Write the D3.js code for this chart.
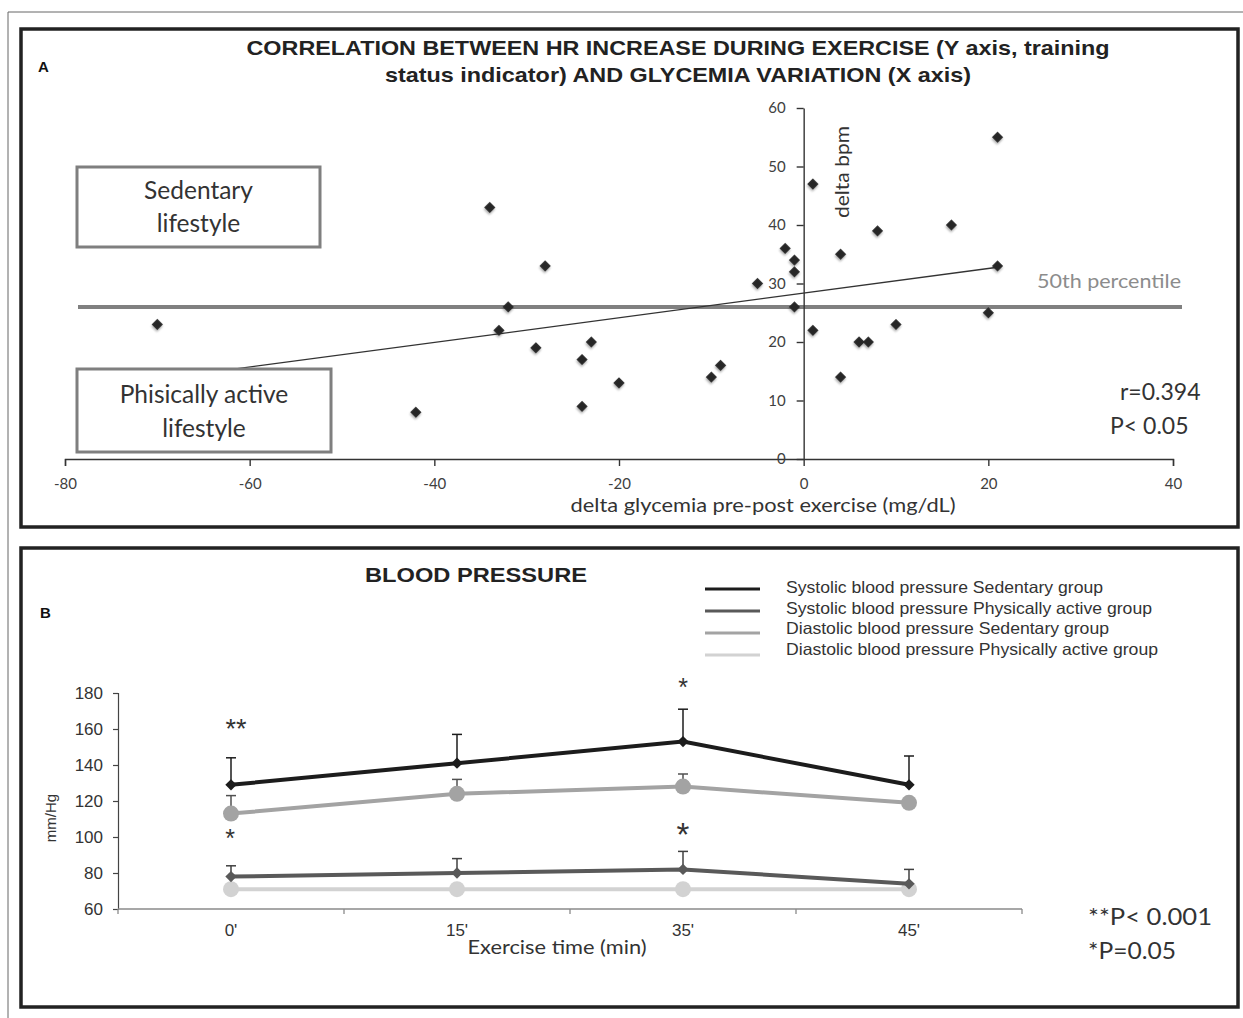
<!DOCTYPE html>
<html><head><meta charset="utf-8">
<script src="https://cdn.jsdelivr.net/npm/d3@7"></script>
<style>body{margin:0;background:#fff}</style>
</head><body>
<svg id="c" width="1243" height="1018"></svg>
<script>
// ---------- Panel A data ----------
const glycemiaDelta = [-70,-42,-34,-33,-32,-29,-28,-24,-24,-23,-20,-10,-9,-5,-2,-1,-1,-1,1,1,4,4,6,7,8,10,16,20,21,21];
const bpmDelta      = [ 23,  8, 43, 22, 26, 19, 33, 17,  9, 20, 13, 14,16,30,36,34,32,26,47,22,35,14,20,20,39,23,40,25,55,33];
const percentile50 = 26;
const xTicksA = [-80,-60,-40,-20,0,20,40];
const yTicksA = [0,10,20,30,40,50,60];

// ---------- Panel B data ----------
const timePoints = ["0'", "15'", "35'", "45'"];
const seriesNames = [
  "Systolic blood pressure Sedentary group",
  "Systolic blood pressure Physically active group",
  "Diastolic blood pressure Sedentary group",
  "Diastolic blood pressure Physically active group"
];
const sysSedentary    = [129, 141, 153, 129];
const sysSedentaryErr = [15, 16, 18, 16];
const sysActive       = [78, 80, 82, 74];
const sysActiveErr    = [6, 8, 10, 8];
const diaSedentary    = [113, 124, 128, 119];
const diaSedentaryErr = [10, 8, 7, 0];
const diaActive       = [71, 71, 71, 71];
const diaActiveErr    = [0, 0, 0, 0];
const yTicksB = [60,80,100,120,140,160,180];

const svg = d3.select("#c");
const CAL = "Lato, 'Open Sans', sans-serif";
const ARI = "'Liberation Sans', Arial, sans-serif";

// drop shadow filter
const defs = svg.append("defs");
const f = defs.append("filter").attr("id","sh").attr("x","-50%").attr("y","-50%").attr("width","200%").attr("height","200%");
f.append("feDropShadow").attr("dx",1).attr("dy",1.5).attr("stdDeviation",1).attr("flood-color","#000").attr("flood-opacity",0.35);

// outer thin borders
svg.append("line").attr("x1",8).attr("x2",1243).attr("y1",12).attr("y2",12).attr("stroke","#666").attr("stroke-width",1);
svg.append("line").attr("x1",8).attr("x2",8).attr("y1",12).attr("y2",1018).attr("stroke","#666").attr("stroke-width",1);

// panel frames
svg.append("rect").attr("x",21).attr("y",29).attr("width",1217).attr("height",498)
  .attr("fill","none").attr("stroke","#222").attr("stroke-width",3.5);
svg.append("rect").attr("x",21).attr("y",548).attr("width",1217).attr("height",459)
  .attr("fill","none").attr("stroke","#222").attr("stroke-width",3.5);

// ================= Panel A =================
const xA = d3.scaleLinear().domain([-80,40]).range([65,1173]);
const yA = d3.scaleLinear().domain([0,60]).range([459,108]);

svg.append("text").attr("x",38).attr("y",72).text("A")
  .attr("font-family",ARI).attr("font-weight","bold").attr("font-size",15).attr("fill","#111");
svg.append("text").attr("x",678).attr("y",55).attr("text-anchor","middle")
  .attr("font-family",ARI).attr("font-weight","bold").attr("font-size",20.5).attr("fill","#222")
  .attr("textLength",863).attr("lengthAdjust","spacingAndGlyphs")
  .text("CORRELATION BETWEEN HR INCREASE DURING EXERCISE (Y axis, training");
svg.append("text").attr("x",678).attr("y",82).attr("text-anchor","middle")
  .attr("font-family",ARI).attr("font-weight","bold").attr("font-size",20.5).attr("fill","#222")
  .attr("textLength",586).attr("lengthAdjust","spacingAndGlyphs")
  .text("status indicator) AND GLYCEMIA VARIATION (X axis)");

// 50th percentile line
svg.append("line").attr("x1",78).attr("x2",1182)
  .attr("y1",yA(percentile50)).attr("y2",yA(percentile50))
  .attr("stroke","#808080").attr("stroke-width",4);
svg.append("text").attr("x",1037).attr("y",288).text("50th percentile")
  .attr("font-family",CAL).attr("font-size",19).attr("fill","#8c8c8c")
  .attr("textLength",144).attr("lengthAdjust","spacingAndGlyphs");

// regression trendline
const n = glycemiaDelta.length;
const mx = d3.mean(glycemiaDelta), my = d3.mean(bpmDelta);
let sxy = 0, sxx = 0;
for (let i=0;i<n;i++){ sxy += (glycemiaDelta[i]-mx)*(bpmDelta[i]-my); sxx += (glycemiaDelta[i]-mx)**2; }
const slope = sxy/sxx, icpt = my - slope*mx;
const x0 = d3.min(glycemiaDelta), x1 = d3.max(glycemiaDelta);
svg.append("line").attr("x1",xA(x0)).attr("y1",yA(icpt+slope*x0))
  .attr("x2",xA(x1)).attr("y2",yA(icpt+slope*x1))
  .attr("stroke","#333").attr("stroke-width",1.3);

// axes A
const gxA = svg.append("g").attr("transform",`translate(0,${yA(0)})`)
  .call(d3.axisBottom(xA).tickValues(xTicksA).tickSize(7).tickSizeOuter(7).tickPadding(12).tickFormat(d3.format("d")));
const gyA = svg.append("g").attr("transform",`translate(${xA(0)},0)`)
  .call(d3.axisLeft(yA).tickValues(yTicksA).tickSize(7).tickSizeOuter(0).tickPadding(11).tickFormat(d3.format("d")));
[gxA,gyA].forEach(g=>{
  g.selectAll("path,line").attr("stroke","#333").attr("stroke-width",1.4);
  g.selectAll("text").attr("font-family",CAL).attr("font-size",15).attr("fill","#404040");
});
gxA.selectAll("text").text(d => d < 0 ? "-" + Math.abs(d) : d);

svg.append("text").attr("x",763).attr("y",512).attr("text-anchor","middle")
  .attr("font-family",CAL).attr("font-size",19).attr("fill","#333")
  .attr("textLength",385).attr("lengthAdjust","spacingAndGlyphs")
  .text("delta glycemia pre-post exercise (mg/dL)");
svg.append("text").attr("transform","translate(841,172) rotate(-90)").attr("text-anchor","middle")
  .attr("dominant-baseline","central")
  .attr("font-family",CAL).attr("font-size",19).attr("fill","#333")
  .attr("textLength",92).attr("lengthAdjust","spacingAndGlyphs").text("delta bpm");

// scatter points
svg.append("g").selectAll("path").data(glycemiaDelta.map((x,i)=>[x,bpmDelta[i]])).join("path")
  .attr("d", d3.symbol(d3.symbolSquare, 62)())
  .attr("transform", d => `translate(${xA(d[0])},${yA(d[1])}) rotate(45)`)
  .attr("fill","#262626").attr("filter","url(#sh)");

// lifestyle boxes
function box(x,y,w,h,lines,ys){
  svg.append("rect").attr("x",x).attr("y",y).attr("width",w).attr("height",h)
    .attr("fill","#fff").attr("stroke","#7f7f7f").attr("stroke-width",3);
  lines.forEach((t,i)=>svg.append("text").attr("x",x+w/2).attr("y",ys[i]).attr("text-anchor","middle")
    .attr("font-family",CAL).attr("font-size",24.5).attr("fill","#333").text(t));
}
box(77,167,243,80,["Sedentary","lifestyle"],[199,232]);
box(77,369,254,83,["Phisically active","lifestyle"],[403,437]);

svg.append("text").attr("x",1120).attr("y",400).text("r=0.394")
  .attr("font-family",CAL).attr("font-size",23).attr("fill","#333");
svg.append("text").attr("x",1110).attr("y",434).text("P< 0.05")
  .attr("font-family",CAL).attr("font-size",23).attr("fill","#333");

// ================= Panel B =================
svg.append("text").attr("x",40).attr("y",618).text("B")
  .attr("font-family",ARI).attr("font-weight","bold").attr("font-size",15).attr("fill","#111");
svg.append("text").attr("x",476).attr("y",582).attr("text-anchor","middle")
  .attr("font-family",ARI).attr("font-weight","bold").attr("font-size",20.5).attr("fill","#222")
  .attr("textLength",222).attr("lengthAdjust","spacingAndGlyphs").text("BLOOD PRESSURE");

const colors = ["#1c1c1c","#595959","#a3a3a3","#d2d2d2"];
const errColors = ["#1c1c1c","#404040","#505050","#999"];
const legendW = [317,366,323,372];
seriesNames.forEach((name,i)=>{
  const ly = 589 + i*22;
  svg.append("line").attr("x1",705).attr("x2",760).attr("y1",ly).attr("y2",ly)
    .attr("stroke",colors[i]).attr("stroke-width",3);
  svg.append("text").attr("x",786).attr("y",593 + i*20.5)
    .attr("font-family",ARI).attr("font-size",16.5).attr("fill","#333")
    .attr("textLength",legendW[i]).attr("lengthAdjust","spacingAndGlyphs").text(name);
});

const xB = d3.scaleBand().domain(timePoints).range([118,1022]);
const yB = d3.scaleLinear().domain([60,180]).range([909,693]);
const cx = t => xB(t) + xB.bandwidth()/2;

const gyB = svg.append("g").attr("transform","translate(118,0)")
  .call(d3.axisLeft(yB).tickValues(yTicksB).tickSize(5).tickSizeOuter(5).tickPadding(10));
gyB.selectAll("path,line").attr("stroke","#444").attr("stroke-width",1.2);
gyB.selectAll("text").attr("font-family",ARI).attr("font-size",17).attr("fill","#333");

// x axis line + boundary ticks
svg.append("line").attr("x1",118).attr("x2",1022).attr("y1",yB(60)).attr("y2",yB(60))
  .attr("stroke","#8a8a8a").attr("stroke-width",1.5);
const bounds = timePoints.map(t=>xB(t)).concat([xB.range()[1]]);
svg.append("g").selectAll("line").data(bounds).join("line")
  .attr("x1",d=>d).attr("x2",d=>d).attr("y1",yB(60)).attr("y2",yB(60)+5)
  .attr("stroke","#8a8a8a").attr("stroke-width",1.3);
svg.append("g").selectAll("text").data(timePoints).join("text")
  .attr("x",d=>cx(d)).attr("y",936).attr("text-anchor","middle")
  .attr("font-family",ARI).attr("font-size",17).attr("fill","#333").text(d=>d);
svg.append("text").attr("x",557).attr("y",954).attr("text-anchor","middle")
  .attr("font-family",CAL).attr("font-size",19).attr("fill","#333")
  .attr("textLength",179).attr("lengthAdjust","spacingAndGlyphs").text("Exercise time (min)");
svg.append("text").attr("transform","translate(50,818) rotate(-90)").attr("text-anchor","middle")
  .attr("dominant-baseline","central")
  .attr("font-family",ARI).attr("font-size",15).attr("fill","#333").text("mm/Hg");

const series = [
  {v:sysSedentary, e:sysSedentaryErr, m:"diamond"},
  {v:sysActive,    e:sysActiveErr,    m:"diamond"},
  {v:diaSedentary, e:diaSedentaryErr, m:"circle"},
  {v:diaActive,    e:diaActiveErr,    m:"circle"}
];
const lineGen = d3.line().x((d,i)=>cx(timePoints[i])).y(d=>yB(d));
// draw from back (light) to front
[3,2,1,0].forEach(si=>{
  const s = series[si];
  const g = svg.append("g");
  s.v.forEach((v,i)=>{
    if (!s.e[i]) return;
    const x = cx(timePoints[i]);
    g.append("line").attr("x1",x).attr("x2",x).attr("y1",yB(v)).attr("y2",yB(v+s.e[i]))
      .attr("stroke",errColors[si]).attr("stroke-width",1.5);
    g.append("line").attr("x1",x-5).attr("x2",x+5).attr("y1",yB(v+s.e[i])).attr("y2",yB(v+s.e[i]))
      .attr("stroke",errColors[si]).attr("stroke-width",1.5);
  });
  g.append("path").attr("d",lineGen(s.v)).attr("fill","none")
    .attr("stroke",colors[si]).attr("stroke-width",4);
  if (s.m === "diamond") {
    g.selectAll(".mk").data(s.v).join("path")
      .attr("d", d3.symbol(d3.symbolSquare, 64)())
      .attr("transform",(d,i)=>`translate(${cx(timePoints[i])},${yB(d)}) rotate(45)`)
      .attr("fill",colors[si]);
  } else {
    g.selectAll(".mk").data(s.v).join("circle")
      .attr("cx",(d,i)=>cx(timePoints[i])).attr("cy",d=>yB(d)).attr("r",8)
      .attr("fill",colors[si]);
  }
});

// significance asterisks
function star(x,cy,t,fs){
  svg.append("text").attr("x",x).attr("y",cy+0.55*fs).attr("text-anchor","middle")
    .attr("font-family",ARI).attr("font-size",fs).attr("fill","#333").text(t);
}
star(cx("0'")+5,723,"**",27);
star(cx("0'")-1,833,"*",25);
star(cx("35'"),682,"*",25);
star(cx("35'"),828,"*",33);

svg.append("text").attr("x",1088).attr("y",925).text("**P< 0.001")
  .attr("font-family",CAL).attr("font-size",24).attr("fill","#333")
  .attr("textLength",124).attr("lengthAdjust","spacingAndGlyphs");
svg.append("text").attr("x",1088).attr("y",959).text("*P=0.05")
  .attr("font-family",CAL).attr("font-size",24).attr("fill","#333")
  .attr("textLength",88).attr("lengthAdjust","spacingAndGlyphs");
</script>
</body></html>
